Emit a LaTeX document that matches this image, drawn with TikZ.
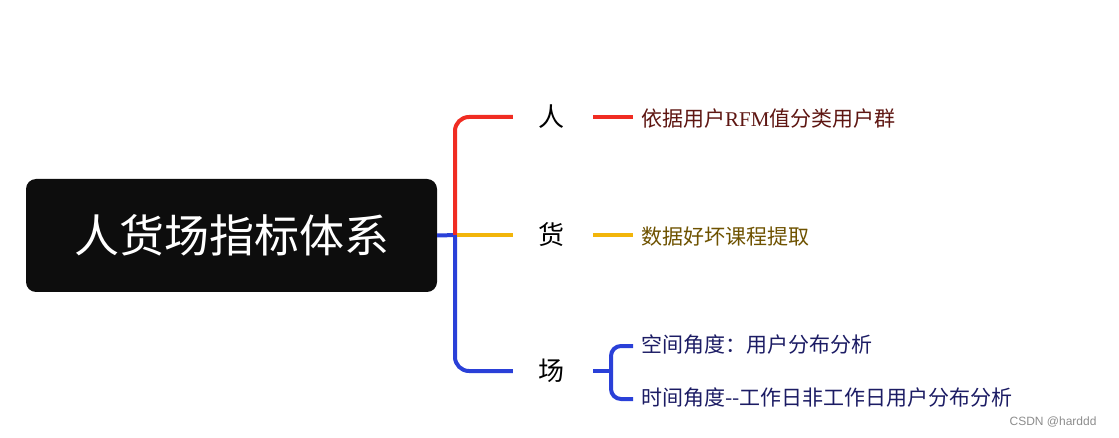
\documentclass[tikz,border=0pt]{standalone}
\usepackage{fontspec}
\setmainfont{Liberation Serif}
\newfontfamily\cjk{Noto Sans CJK SC}
\newfontfamily\marksans{Liberation Sans}
\usepackage{tikz}

\definecolor{rootblack}{HTML}{0D0D0D}
\definecolor{renred}{HTML}{F02C22}
\definecolor{huoyellow}{HTML}{F2B50A}
\definecolor{changblue}{HTML}{2A40D8}
\definecolor{rentext}{HTML}{5E1612}
\definecolor{huotext}{HTML}{6E5200}
\definecolor{changtext}{HTML}{1C1C64}

\begin{document}
\begin{tikzpicture}[x=1pt,y=-1pt,
        branch/.style={line width=4pt},
        topic/.style={minimum width=76pt,inner sep=0pt,font=\cjk\fontsize{26}{28}\selectfont},
        leaf/.style={anchor=west,inner xsep=8pt,inner ysep=0pt,font=\cjk\fontsize{21}{24}\selectfont}]
        \useasboundingbox (0,0) rectangle (1119,438);

        % central topic
        \node[fill=rootblack,rounded corners=10pt,minimum width=411pt,minimum height=113pt,
              text=white,font=\cjk\fontsize{45}{50}\selectfont] (root) at (231.5,235.5) {人货场指标体系};

        \coordinate (hub) at (455,235);

        % first level
        \node[topic] (ren) at (551,117) {人};
        \node[topic] (huo) at (551,235) {货};
        \node[topic] (chang) at (551,371) {场};

        \draw[branch,changblue] (root.east) -- ([xshift=2pt]hub);
        \draw[branch,changblue,rounded corners=14pt] (hub) |- (chang.west);
        \draw[branch,renred,rounded corners=14pt] (hub) |- (ren.west);
        \draw[branch,huoyellow] ([xshift=2pt]hub) -- (huo.west);

        % second level
        \node[leaf,text=rentext] (renA) at (633,119) {依据用户{\rmfamily RFM}值分类用户群};
        \node[leaf,text=huotext] (huoA) at (633,237) {数据好坏课程提取};
        \node[leaf,text=changtext] (changA) at (633,345) {空间角度：用户分布分析};
        \node[leaf,text=changtext] (changB) at (633,398) {时间角度--工作日非工作日用户分布分析};

        \draw[branch,renred] ([xshift=4pt]ren.east) -- (renA.west |- ren.east);
        \draw[branch,huoyellow] ([xshift=4pt]huo.east) -- (huoA.west |- huo.east);

        \coordinate (fork) at (611,371);
        \draw[branch,changblue] ([xshift=4pt]chang.east) -- (fork);
        \draw[branch,changblue,rounded corners=10pt] (fork) |- ([yshift=-1pt]changA.west);
        \draw[branch,changblue,rounded corners=10pt] (fork) |- ([yshift=-1pt]changB.west);

        \node[anchor=east,text=black!45,font=\marksans\fontsize{12}{13}\selectfont] (mark) at (1100,422) {CSDN @harddd};
    \end{tikzpicture}
\end{document}
